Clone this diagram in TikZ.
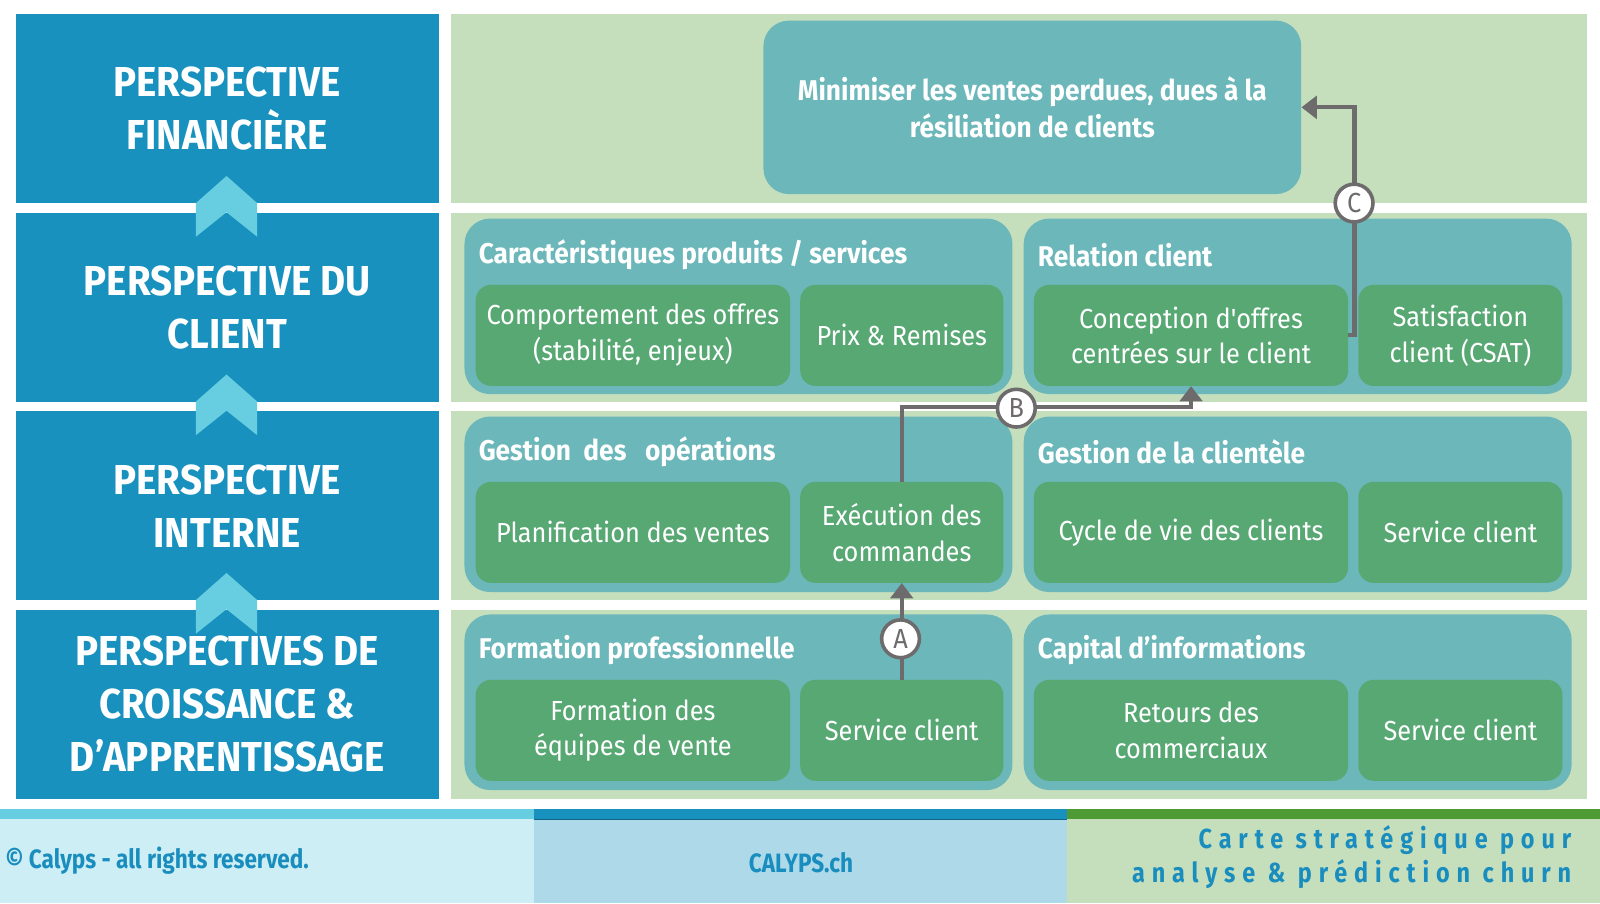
\documentclass[tikz,border=0pt]{standalone}
\usepackage{fontspec}
\setmainfont{Fira Sans}[FakeStretch=0.92]
\newfontfamily\boldwide{Fira Sans}[FakeStretch=0.92]
\newfontfamily\straightq{Fira Sans}[FakeStretch=0.92,Ligatures=ResetAll]
\newfontfamily\narrowfont{Fira Sans}[FakeStretch=0.85]
\newfontfamily\spacedfont{Fira Sans}[FakeStretch=0.85,LetterSpace=25]
\usetikzlibrary{arrows.meta}
\definecolor{pblue}{HTML}{1891BF}
\definecolor{chev}{HTML}{67CDE0}
\definecolor{lgreen}{HTML}{C5DFBD}
\definecolor{teal}{HTML}{6BB7B9}
\definecolor{gbox}{HTML}{58A874}
\definecolor{agray}{HTML}{6E6B6C}
\definecolor{fcyan}{HTML}{CDEEF5}
\definecolor{fblue}{HTML}{ADD9E8}
\definecolor{fgreenbar}{HTML}{4E9A35}
\definecolor{ftext}{HTML}{1A8DBF}
\tikzset{
  persp/.style={fill=pblue, text=white, align=center, inner sep=0pt, anchor=north west,
    minimum width=415pt, minimum height=185pt, font=\boldwide\bfseries\fontsize{41}{52}\selectfont},
  rowpanel/.style={fill=lgreen, inner sep=0pt, anchor=north west, minimum width=1113pt, minimum height=185pt},
  grouppanel/.style={fill=teal, rounded corners=25pt, inner sep=0pt, anchor=north west, minimum width=537pt, minimum height=172pt},
  gtitle/.style={text=white, anchor=west, inner sep=0pt, font=\boldwide\bfseries\fontsize{28}{32}\selectfont},
  gbig/.style={fill=gbox, rounded corners=15pt, text=white, align=center, inner sep=0pt, anchor=north west,
    minimum width=308pt, minimum height=99pt, font=\fontsize{27}{35}\selectfont},
  gsmall/.style={gbig, minimum width=200pt},
  chevron/.style={fill=chev},
  conn/.style={draw=agray, line width=4pt, -{Triangle[width=22pt,length=15pt]}},
  circ/.style={circle, fill=white, draw=agray, line width=3.5pt, minimum size=37pt, inner sep=0pt,
    text=agray, font=\fontsize{27}{27}\selectfont},
  foot/.style={inner sep=0pt, text=ftext, font=\narrowfont\bfseries\fontsize{26}{30}\selectfont},
}
\begin{document}
\begin{tikzpicture}[x=1pt,y=-1pt]
\useasboundingbox (0,0) rectangle (1568,885);
\fill[white] (0,0) rectangle (1568,885);
% left perspective boxes
\node[persp] (p1) at (15,14) {PERSPECTIVE\\FINANCIÈRE};
\node[persp] (p2) at (15,208.5) {PERSPECTIVE DU\\CLIENT};
\node[persp] (p3) at (15,403) {PERSPECTIVE\\INTERNE};
\node[persp] (p4) at (15,597.5) {PERSPECTIVES DE\\CROISSANCE \&\\D’APPRENTISSAGE};
% chevrons
\foreach \dy in {0,194.5,389}{
  \fill[chevron] (192,199+\dy) -- (222,172.5+\dy) -- (252,199+\dy) -- (252,232+\dy) -- (222,208+\dy) -- (192,232+\dy) -- cycle;
}
% right panels
\node[rowpanel] (r1) at (442,14) {};
\node[rowpanel] (r2) at (442,208.5) {};
\node[rowpanel] (r3) at (442,403) {};
\node[rowpanel] (r4) at (442,597.5) {};
% financial objective
\node[fill=teal, rounded corners=25pt, anchor=north west, minimum width=527pt, minimum height=170pt, inner sep=0pt,
  text=white, align=center, font=\boldwide\bfseries\fontsize{28}{36}\selectfont] (mini) at (748,20)
  {Minimiser les ventes perdues, dues à la\\résiliation de clients};
% row 2
\node[grouppanel] (g2l) at (455,214) {};
\node[grouppanel] (g2r) at (1003,214) {};
\node[gtitle] (t2l) at (469,250) {Caractéristiques produits / services};
\node[gtitle] (t2r) at (1017,250) {Relation client};
\node[gbig] (comport) at (466,279) {Comportement des offres\\(stabilité, enjeux)};
\node[gsmall, minimum width=199pt] (prix) at (784,279) {Prix \& Remises};
\node[gbig] (concept) at (1013,279) {Conception d{\straightq'}offres\\centrées sur le client};
\node[gsmall] (satis) at (1331,279) {Satisfaction\\client (CSAT)};
% row 3
\node[grouppanel] (g3l) at (455,408) {};
\node[grouppanel] (g3r) at (1003,408) {};
\node[gtitle] (t3l) at (469,443) {Gestion\ \ des\ \ \ opérations};
\node[gtitle] (t3r) at (1017,443) {Gestion de la clientèle};
\node[gbig] (planif) at (466,472) {Planification des ventes};
\node[gsmall, minimum width=199pt] (exec) at (784,472) {Exécution des\\commandes};
\node[gbig] (cycle) at (1013,472) {Cycle de vie des clients};
\node[gsmall] (svc2) at (1331,472) {Service client};
% row 4
\node[grouppanel] (g4l) at (455,602) {};
\node[grouppanel] (g4r) at (1003,602) {};
\node[gtitle] (t4l) at (469,637) {Formation professionnelle};
\node[gtitle] (t4r) at (1017,637) {Capital d’informations};
\node[gbig] (form) at (466,666) {Formation des\\équipes de vente};
\node[gsmall, minimum width=199pt] (svc1) at (784,666) {Service client};
\node[gbig] (retours) at (1013,666) {Retours des\\commerciaux};
\node[gsmall] (svc3) at (1331,666) {Service client};
% connectors
\draw[conn] (svc1.north) -- (exec.south);
\draw[conn] (exec.north) -- ++(0,-73) -| (concept.south);
\draw[conn] (concept.east) -- ++(6,0) |- (mini.east);
\node[circ] (cA) at (882.5,626) {A};
\node[circ] (cB) at (996,400) {B};
\node[circ] (cC) at (1327,199) {C};
% footer
\fill[fcyan] (0,803) rectangle (523,885);
\fill[fblue] (523,803) rectangle (1046,885);
\fill[lgreen] (1046,803) rectangle (1568,885);
\fill[chev] (0,793) rectangle (523,803);
\fill[pblue] (523,793) rectangle (1046,803);
\fill[fgreenbar] (1046,793) rectangle (1568,803);
\draw[draw=pblue!70!black, line width=1pt] (523,803) -- (1046,803);
\node[foot, anchor=west] (copy) at (5,843) {© Calyps - all rights reserved.};
\node[foot] (site) at (785,845) {CALYPS.ch};
\node[anchor=east, align=right, inner sep=0pt, text=ftext, font=\spacedfont\bfseries\fontsize{27}{33}\selectfont] (carte) at (1540,840) {Carte stratégique pour\\analyse \& prédiction churn};
\end{tikzpicture}
\end{document}
